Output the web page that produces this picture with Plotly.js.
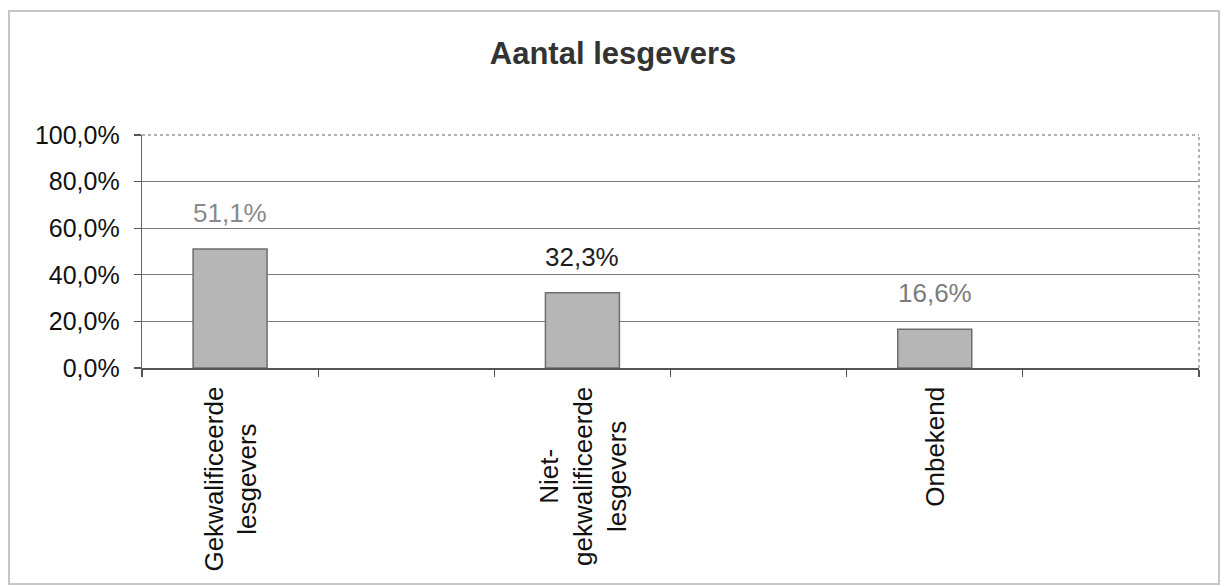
<!DOCTYPE html>
<html>
<head>
<meta charset="utf-8">
<script src="https://cdn.plot.ly/plotly-3.0.1.min.js"></script>
<style>
  html, body { margin: 0; padding: 0; background: #fff; }
  #wrap { position: relative; width: 1226px; height: 587px; }
  #chart { width: 1226px; height: 587px; }
  #frame { position: absolute; left: 8px; top: 10px; width: 1208px; height: 571px;
           border: 2px solid #c6c6c6; pointer-events: none; }
</style>
</head>
<body>
<div id="wrap">
  <div id="chart"></div>
  <div id="frame"></div>
</div>
<script>
// ---- data ----
const categories = ["Gekwalificeerde lesgevers", "Niet-gekwalificeerde lesgevers", "Onbekend"];
const categoryLabels = ["Gekwalificeerde<br>lesgevers", "Niet-<br>gekwalificeerde<br>lesgevers", "Onbekend"];
const values = [51.1, 32.3, 16.6];
const yTickValues = [0, 20, 40, 60, 80, 100];
const yTickLabels = ["0,0%", "20,0%", "40,0%", "60,0%", "80,0%", "100,0%"];
const chartTitle = "Aantal lesgevers";

// empty slots between categories (as in the original Excel chart)
const slots = [];
categories.forEach((c, i) => { slots.push(c); slots.push("gap" + i); });

const labelColors = ["#8a8a8a", "#1e1e1e", "#7c7c7c"];
const fmt = v => v.toFixed(1).replace(".", ",") + "%";

const FONT = "Liberation Sans, Arial, sans-serif";

const trace = {
  type: "bar",
  x: categories,
  y: values,
  marker: { color: "#b6b6b6", line: { color: "#6e6e6e", width: 1.5 } },
  hoverinfo: "skip"
};

const annotations = [];
categories.forEach((c, i) => {
  annotations.push({
    x: c, y: values[i], xref: "x", yref: "y",
    text: fmt(values[i]), showarrow: false,
    yanchor: "middle", yshift: 36,
    font: { family: FONT, size: 26, color: labelColors[i] }
  });
  annotations.push({
    x: c, y: 0, xref: "x", yref: "y",
    text: categoryLabels[i], showarrow: false,
    textangle: -90, align: "center",
    yanchor: "top", xanchor: "center", yshift: -17,
    font: { family: FONT, size: 26, color: "#111" }
  });
});

const layout = {
  width: 1226, height: 587,
  margin: { l: 142, r: 27, t: 135, b: 219 },
  paper_bgcolor: "#fff", plot_bgcolor: "#fff",
  showlegend: false,
  bargap: 0.58,
  title: {
    text: chartTitle,
    x: 0.5, xref: "container", xanchor: "center",
    y: 1 - 53 / 587, yref: "container", yanchor: "middle",
    font: { family: FONT, size: 31, color: "#333", weight: "bold" }
  },
  xaxis: {
    type: "category",
    categoryorder: "array", categoryarray: slots,
    range: [-0.5, slots.length - 0.5],
    showticklabels: false,
    tickson: "boundaries",
    ticks: "outside", ticklen: 7, tickwidth: 1.2, tickcolor: "#555",
    showgrid: false, zeroline: false,
    showline: true, linecolor: "#555", linewidth: 1.5,
    fixedrange: true
  },
  yaxis: {
    range: [0, 100],
    tickvals: yTickValues, ticktext: yTickLabels,
    ticks: "outside", ticklen: 7, tickwidth: 1.2, tickcolor: "#555",
    ticklabelstandoff: 9,
    tickfont: { family: FONT, size: 25, color: "#111" },
    showgrid: true, gridcolor: "#7a7a7a", gridwidth: 1.3,
    zeroline: false,
    showline: true, linecolor: "#666", linewidth: 1.3,
    fixedrange: true
  },
  shapes: [
    { type: "line", xref: "paper", yref: "paper", x0: 0, x1: 1, y0: 1, y1: 1,
      line: { color: "#9a9a9a", width: 1.5, dash: "dot" } },
    { type: "line", xref: "paper", yref: "paper", x0: 1, x1: 1, y0: 0, y1: 1,
      line: { color: "#9a9a9a", width: 1.5, dash: "dot" } }
  ],
  annotations: annotations
};

Plotly.newPlot("chart", [trace], layout, { staticPlot: true, displayModeBar: false });
</script>
</body>
</html>
